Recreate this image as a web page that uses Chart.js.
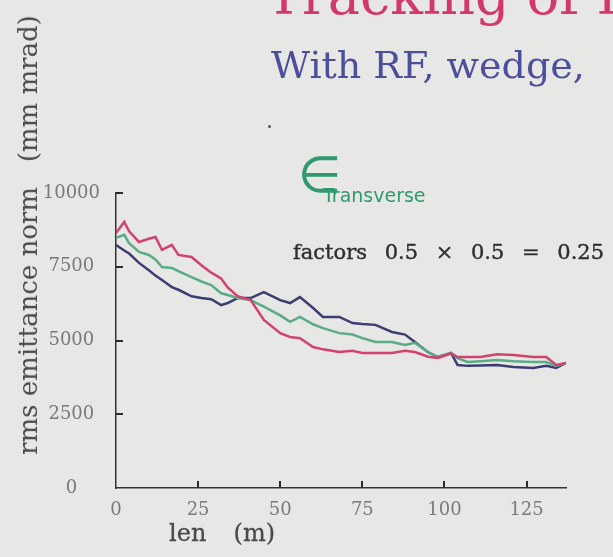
<!DOCTYPE html>
<html>
<head>
<meta charset="utf-8">
<script src="https://cdn.jsdelivr.net/npm/chart.js@4.4.1/dist/chart.umd.min.js"></script>
<style>
  body { margin: 0; background: #e7e7e5; width: 613px; height: 557px; overflow: hidden; position: relative; font-family: "DejaVu Serif", serif; }
  #chart { position: absolute; left: 0; top: 0; }
  .txt { position: absolute; white-space: pre; }
  #title { left: 266px; top: -36px; font-size: 54px; color: #d3386a; }
  #subtitle { left: 271px; top: 43px; font-size: 38px; color: #4b4f9c; }
  #dot { left: 268px; top: 125px; width: 3px; height: 3px; background: #555; border-radius: 2px; }
  #eps { left: 298px; top: 146px; font-size: 50px; color: #2e9a6e; font-family: "DejaVu Sans", sans-serif; }
  #trans { left: 323px; top: 184px; font-size: 19px; color: #2e9a6e; font-family: "DejaVu Sans", sans-serif; }
  #factors { left: 293px; top: 240px; font-size: 21px; color: #2e2e2e; word-spacing: 11px; -webkit-text-stroke: 0.4px #2e2e2e; }
  #ytitle { left: 28px; top: 235px; font-size: 26px; color: #4a4a4a; transform: translate(-50%, -50%) rotate(-90deg); }
  #xtitle { left: 169px; top: 519px; font-size: 24px; color: #4a4a4a; word-spacing: 6px; -webkit-text-stroke: 0.3px #4a4a4a; }
</style>
</head>
<body>
<canvas id="chart" width="613" height="557"></canvas>
<div class="txt" id="title">Tracking of Particles</div>
<div class="txt" id="subtitle">With RF, wedge,</div>
<div class="txt" id="dot"></div>
<div class="txt" id="eps">∈</div>
<div class="txt" id="trans">Transverse</div>
<div class="txt" id="factors">factors 0.5 × 0.5 = 0.25</div>
<div class="txt" id="ytitle">rms emittance norm   (mm mrad)</div>
<div class="txt" id="xtitle">len  (m)</div>
<script>
// len (m)
const lenM = [0, 2.5, 4, 7, 10, 12, 14, 17, 19, 23, 26, 29, 32, 34, 37, 41, 45, 50, 53, 56, 60, 63, 68, 72, 75, 79, 84, 88, 91, 95, 98, 102, 104, 107, 111, 116, 121, 127, 131, 134, 137];

// rms emittance norm (mm mrad)
const redSeries = [8640, 9020, 8700, 8340, 8450, 8510, 8070, 8240, 7900, 7830, 7550, 7300, 7100, 6800, 6500, 6370, 5700, 5250, 5120, 5080, 4780, 4700, 4610, 4650, 4580, 4580, 4580, 4650, 4610, 4450, 4410, 4560, 4440, 4440, 4440, 4530, 4510, 4440, 4440, 4170, 4240];
const greenSeries = [8480, 8580, 8300, 8000, 7900, 7750, 7490, 7460, 7350, 7150, 7000, 6880, 6600, 6540, 6440, 6370, 6150, 5850, 5630, 5800, 5550, 5420, 5250, 5200, 5080, 4950, 4950, 4850, 4920, 4610, 4440, 4580, 4400, 4270, 4300, 4340, 4300, 4270, 4270, 4140, 4240];
const blueSeries = [8240, 8050, 7950, 7630, 7380, 7200, 7050, 6810, 6720, 6500, 6440, 6400, 6200, 6270, 6440, 6440, 6640, 6370, 6270, 6470, 6100, 5800, 5800, 5590, 5560, 5530, 5290, 5200, 4950, 4600, 4440, 4580, 4170, 4140, 4150, 4170, 4100, 4070, 4140, 4070, 4240];

const xTicks = [0, 25, 50, 75, 100, 125];
const yTicks = [0, 2500, 5000, 7500, 10000];

function points(values) {
  return values.map((v, i) => ({ x: lenM[i], y: v }));
}

// 안쪽으로 향하는 눈금
const innerTicks = {
  id: "innerTicks",
  afterDraw(chart) {
    const ctx = chart.ctx;
    const xs = chart.scales.x;
    const ys = chart.scales.y;
    const area = chart.chartArea;
    ctx.save();
    ctx.fillStyle = "#2a2a2a";
    for (const t of xTicks) {
      if (t === 0) continue;
      const px = Math.round(xs.getPixelForValue(t));
      ctx.fillRect(px - 1, area.bottom - 7, 2, 7);
    }
    for (const t of yTicks) {
      if (t === 0) continue;
      const py = Math.round(ys.getPixelForValue(t));
      ctx.fillRect(area.left, py - 1, 7, 2);
    }
    ctx.restore();
  },
};

const lineStyle = { borderWidth: 2.5, pointRadius: 0, tension: 0, fill: false };

new Chart(document.getElementById("chart"), {
  type: "line",
  data: {
    datasets: [
      { label: "red", data: points(redSeries), borderColor: "#d2426f", ...lineStyle },
      { label: "green", data: points(greenSeries), borderColor: "#5aac86", ...lineStyle },
      { label: "blue", data: points(blueSeries), borderColor: "#3b3d72", ...lineStyle },
    ],
  },
  options: {
    responsive: false,
    animation: false,
    layout: { padding: { left: 0, top: 193, right: 47, bottom: 0 } },
    plugins: { legend: { display: false }, tooltip: { enabled: false } },
    scales: {
      x: {
        type: "linear",
        min: 0,
        max: 137,
        afterBuildTicks: (scale) => {
          scale.ticks = xTicks.map((v) => ({ value: v }));
        },
        afterFit: (scale) => {
          scale.height = 69;
        },
        grid: { drawOnChartArea: false, drawTicks: false },
        border: { color: "#333", width: 1.5 },
        ticks: { padding: 12, color: "#7a7a7a", font: { family: "DejaVu Serif", size: 18 }, maxRotation: 0, callback: (v) => String(v) },
      },
      y: {
        type: "linear",
        min: 0,
        max: 10000,
        afterBuildTicks: (scale) => {
          scale.ticks = yTicks.map((v) => ({ value: v }));
        },
        afterFit: (scale) => {
          scale.width = 116;
        },
        grid: { drawOnChartArea: false, drawTicks: false },
        border: { color: "#333", width: 1.5 },
        ticks: { padding: 16, crossAlign: "center", color: "#7a7a7a", font: { family: "DejaVu Serif", size: 18 }, callback: (v) => String(v) },
      },
    },
  },
  plugins: [innerTicks],
});
</script>
</body>
</html>
